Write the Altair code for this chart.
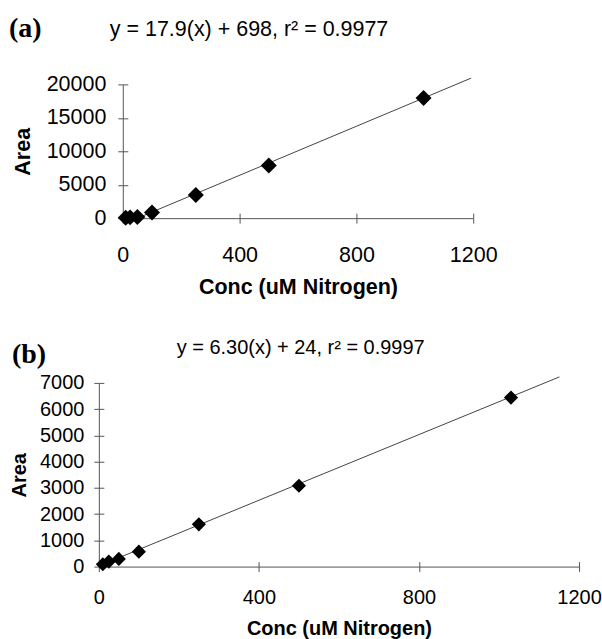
import altair as alt
import pandas as pd

# ---- data ----
conc = [10, 25, 50, 100, 250, 500, 1030]
area_a = [60, 120, 180, 850, 3480, 7860, 17960]
area_b = [88, 190, 292, 570, 1610, 3080, 6440]

fit_a_x = [50, 1193]
fit_a_y = [0, 20940]
fit_b_x = [0, 1151]
fit_b_y = [24, 7228]

panel_labels = ["(a)", "(b)"]
equations = ["y = 17.9(x) + 698, r\u00b2 = 0.9977", "y = 6.30(x) + 24, r\u00b2 = 0.9997"]
x_ticks = [0, 400, 800, 1200]
y_ticks_a = [0, 5000, 10000, 15000, 20000]
y_ticks_b = [0, 1000, 2000, 3000, 4000, 5000, 6000, 7000]
x_title = "Conc (uM Nitrogen)"
y_title = "Area"

FONT = "Liberation Sans"
SERIF = "Liberation Serif"
AX = "#555555"
LINE = "#444444"


def panel(area, fx, fy, label, eq, yticks, ymax, width, height, x0, fs, ms,
          lp_y, tp_y, lp_x, tp_x, lab_xy, eq_xy, lab_fs):
    pts = pd.DataFrame({"conc": conc, "area": area})
    fit = pd.DataFrame({"conc": fx, "area": fy})
    xscale = alt.Scale(domain=[0, 1200], range=[x0, width], nice=False, zero=False)
    yscale = alt.Scale(domain=[0, ymax], nice=False)
    common = dict(grid=False, domainColor=AX, tickColor=AX, tickSize=5,
                  labelFont=FONT, labelFontSize=fs, labelColor="black",
                  titleFont=FONT, titleFontSize=fs, titleFontWeight="bold",
                  titleColor="black")
    x_main = alt.Axis(values=x_ticks, format="d", labelFlush=False,
                      labelPadding=lp_x, titlePadding=tp_x, title=x_title, **common)
    y_main = alt.Axis(values=yticks, format="d", labelPadding=lp_y,
                      titlePadding=tp_y, title=y_title, offset=-x0, **common)
    x_in = alt.Axis(orient="top", offset=-height, values=x_ticks, labels=False,
                    domain=False, title=None, grid=False, tickColor=AX, tickSize=5)
    y_in = alt.Axis(orient="right", offset=-(width - x0), values=yticks,
                    labels=False, domain=False, title=None, grid=False,
                    tickColor=AX, tickSize=5)

    line = alt.Chart(fit).mark_line(color=LINE, strokeWidth=1).encode(
        x=alt.X("conc:Q", scale=xscale, axis=x_main),
        y=alt.Y("area:Q", scale=yscale, axis=y_main),
    )
    points = alt.Chart(pts).mark_point(
        shape="diamond", filled=True, color="black", opacity=1, size=ms
    ).encode(
        x=alt.X("conc:Q", scale=xscale, axis=x_in),
        y=alt.Y("area:Q", scale=yscale, axis=y_in),
    )
    lab = alt.Chart(pd.DataFrame({"t": [label]})).mark_text(
        align="left", baseline="middle", font=SERIF, fontWeight="bold",
        fontSize=lab_fs, color="black"
    ).encode(text="t:N", x=alt.value(lab_xy[0]), y=alt.value(lab_xy[1]))
    eqt = alt.Chart(pd.DataFrame({"t": [eq]})).mark_text(
        align="left", baseline="alphabetic", font=FONT, fontSize=fs, color="black"
    ).encode(text="t:N", x=alt.value(eq_xy[0]), y=alt.value(eq_xy[1]))

    return alt.layer(line, points, lab, eqt).resolve_axis(
        x="independent", y="independent"
    ).properties(width=width, height=height)


pa = panel(area_a, fit_a_x, fit_a_y, panel_labels[0], equations[0], y_ticks_a,
           20000, 375, 134, 24, 21.5, 256, 12, 12, 21, 11, (-90, -55), (11, -48), 28)
pb = panel(area_b, fit_b_x, fit_b_y, panel_labels[1], equations[1], y_ticks_b,
           7000, 481, 184, 0, 20, 200, 10, 10, 16, 11, (-87, -28), (78, -29), 28)

chart = alt.vconcat(pa, pb, spacing=165, bounds="flush").configure_view(
    stroke="transparent"
).properties(padding={"left": 8, "top": 14, "right": 0, "bottom": 0})

chart.save("out.html", embed_options={"renderer": "svg", "actions": False})
